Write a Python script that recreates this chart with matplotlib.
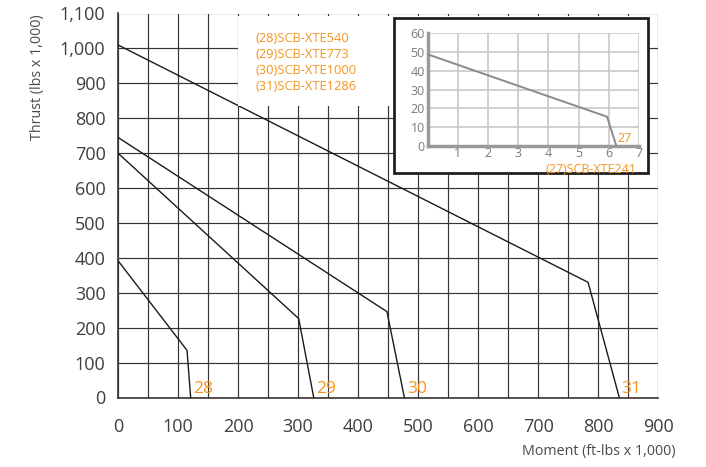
import matplotlib.pyplot as plt
from matplotlib.patches import Rectangle
from matplotlib.ticker import MultipleLocator

plt.rcParams['font.family'] = ['Open Sans', 'DejaVu Sans']

# ── data (moment in ft-lbs x 1,000, thrust in lbs x 1,000)
models = ["28", "29", "30", "31"]
model_names = ["(28)SCB-XTE540", "(29)SCB-XTE773", "(30)SCB-XTE1000", "(31)SCB-XTE1286"]
moment_28 = [0, 115, 121]
thrust_28 = [392, 135, 0]
moment_29 = [0, 301, 326]
thrust_29 = [700, 226, 0]
moment_30 = [0, 448, 477]
thrust_30 = [745, 246, 0]
moment_31 = [0, 783, 835]
thrust_31 = [1010, 330, 0]

# inset: model 27
moment_27 = [0, 5.94, 6.25]
thrust_27 = [48.8, 15.6, 0]

x_ticks = [0, 100, 200, 300, 400, 500, 600, 700, 800, 900]
y_ticks = [0, 100, 200, 300, 400, 500, 600, 700, 800, 900, 1000, 1100]
y_tick_labels = ["0", "100", "200", "300", "400", "500", "600", "700", "800", "900", "1,000", "1,100"]

W, H = 706, 467
ORANGE = "#f7941d"
DARK = "#3a3233"
TXT = "#3f3f3f"

fig = plt.figure(figsize=(W / 100, H / 100), dpi=100)
ax = fig.add_axes([118 / W, 1 - 397.5 / H, (658.3 - 118) / W, (397.5 - 13.5) / H])

curves = [(moment_28, thrust_28), (moment_29, thrust_29),
          (moment_30, thrust_30), (moment_31, thrust_31)]
for (mx, ty), lab in zip(curves, models):
    ax.plot(mx, ty, color="#1a1a1a", linewidth=1.0, zorder=3)
    ax.text(mx[-1] + 4, 2, lab, color=ORANGE, fontsize=12.5, ha="left", va="bottom", zorder=4)

ax.set_xlim(0, 900)
ax.set_ylim(0, 1100)
ax.set_xticks(x_ticks)
ax.xaxis.set_minor_locator(MultipleLocator(50))
ax.set_yticks(y_ticks)
ax.set_yticklabels(y_tick_labels)
ax.grid(True, which="both", color=DARK, linewidth=0.85, zorder=1)
ax.set_axisbelow(True)
ax.tick_params(which="both", length=0, labelsize=13, colors=TXT)
ax.tick_params(axis="x", pad=15)
ax.tick_params(axis="y", pad=9)
for s in ["top", "right"]:
    ax.spines[s].set_visible(False)
for s in ["left", "bottom"]:
    ax.spines[s].set_color(DARK)
    ax.spines[s].set_linewidth(1.2)

# white area behind the model list
ax.add_patch(Rectangle((200, 836), 680, 258, facecolor="white", edgecolor="none", zorder=5))
for i, name in enumerate(model_names):
    fig.text(256 / W, 1 - (38.5 + 16 * i) / H, name, color=ORANGE, fontsize=9.3,
             ha="left", va="center", zorder=6)

fig.text(38 / W, 1 - 77 / H, "Thrust (lbs x 1,000)", rotation=90, ha="center", va="center",
         fontsize=10.3, color="#4a4a4a")
fig.text(676 / W, 1 - 452 / H, "Moment (ft-lbs x 1,000)", ha="right", va="center",
         fontsize=10.3, color="#4a4a4a")

# inset frame
fig.patches.append(Rectangle((394 / W, 1 - 173.5 / H), (648 - 394) / W, (173.5 - 18) / H,
                             transform=fig.transFigure, facecolor="white",
                             edgecolor="#231f20", linewidth=2, zorder=7))

ins = fig.add_axes([427.7 / W, 1 - 146 / H, (639 - 427.7) / W, (146 - 33.3) / H], zorder=8)
ins.patch.set_alpha(0)
ins.plot(moment_27, thrust_27, color="#8a8a8a", linewidth=1.4, zorder=3)
ins.text(6.3, 0.3, "27", color=ORANGE, fontsize=9, ha="left", va="bottom")
ins.set_xlim(0, 7)
ins.set_ylim(0, 60)
ins.set_xticks(range(0, 8))
ins.set_xticklabels([""] + [str(i) for i in range(1, 8)])
ins.set_yticks(range(0, 70, 10))
ins.grid(True, color="#c8c8c8", linewidth=1.2)
ins.set_axisbelow(True)
ins.tick_params(length=0, labelsize=9, colors="#7a7a7a", pad=2)
ins.tick_params(axis="x", pad=1)
for s in ["top", "right"]:
    ins.spines[s].set_visible(False)
for s in ["left", "bottom"]:
    ins.spines[s].set_color("#9a9a9a")
    ins.spines[s].set_linewidth(2.5)
fig.text(637 / W, 1 - 169.5 / H, "(27)SCB-XTE241", color=ORANGE, fontsize=9,
         ha="right", va="center", zorder=9)

fig.savefig("out.png", dpi=100)
